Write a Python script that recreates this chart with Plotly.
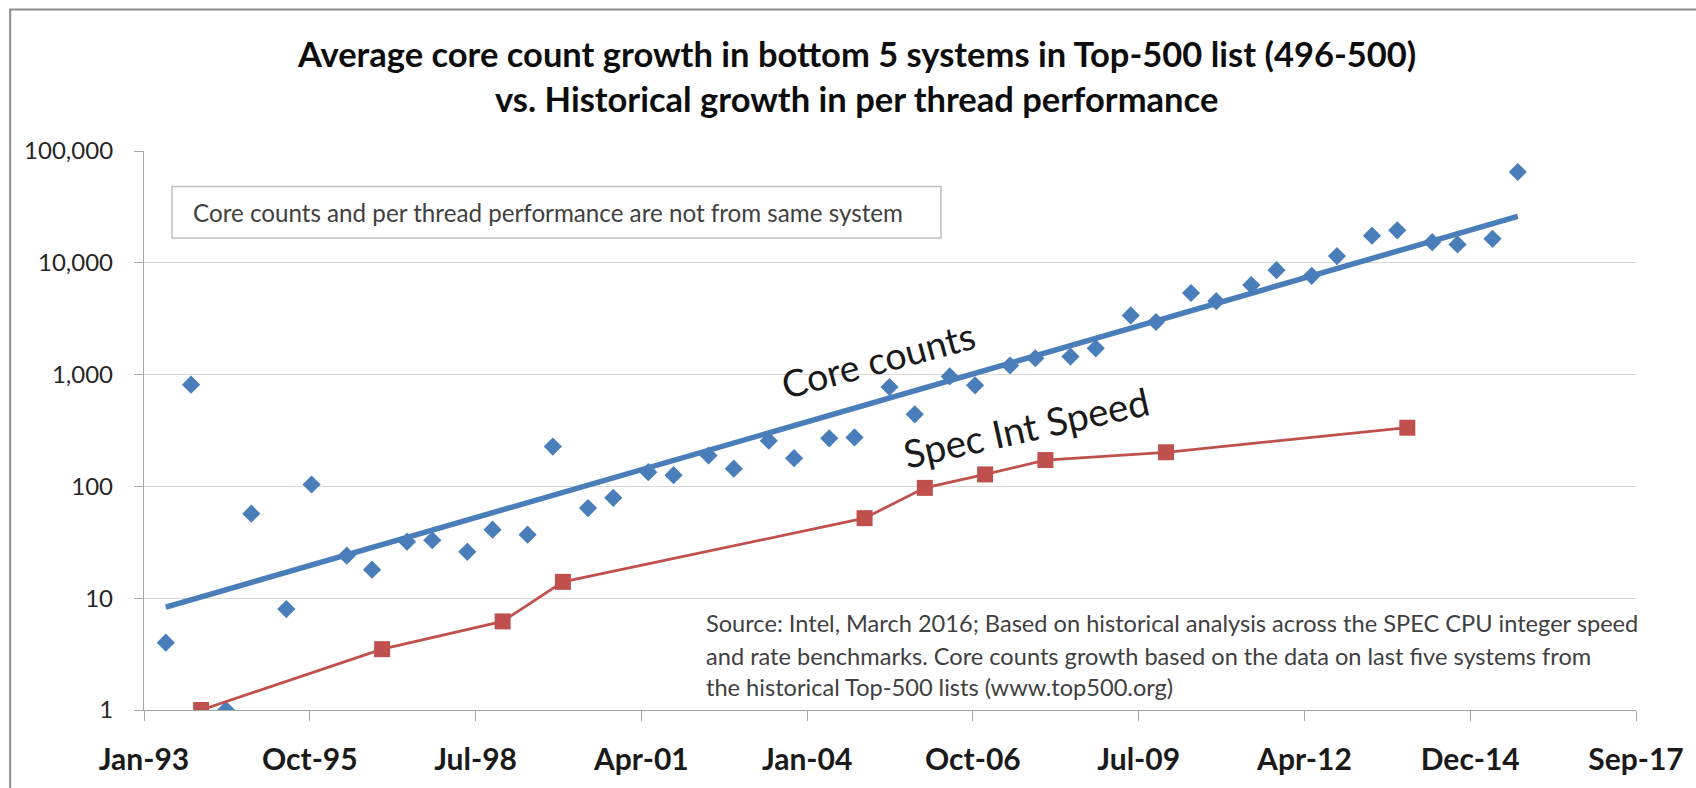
import numpy as np
import pandas as pd
import plotly.graph_objects as go

# Average core count of systems 496-500 in each Top-500 list (spring / autumn lists)
core_dates = [
    "1993-05-15", "1993-10-15", "1994-05-15", "1994-10-15", "1995-05-15", "1995-10-15",
    "1996-05-15", "1996-10-15", "1997-05-15", "1997-10-15", "1998-05-15", "1998-10-15",
    "1999-05-15", "1999-10-15", "2000-05-15", "2000-10-15", "2001-05-15", "2001-10-15",
    "2002-05-15", "2002-10-15", "2003-05-15", "2003-10-15", "2004-05-15", "2004-10-15",
    "2005-05-15", "2005-10-15", "2006-05-15", "2006-10-15", "2007-05-15", "2007-10-15",
    "2008-05-15", "2008-10-15", "2009-05-15", "2009-10-15", "2010-05-15", "2010-10-15",
    "2011-05-15", "2011-10-15", "2012-05-15", "2012-10-15", "2013-05-15", "2013-10-15",
    "2014-05-15", "2014-10-15", "2015-05-15", "2015-10-15",
]
core_counts = [
    4, 813, 1, 57, 8, 104,
    24, 18, 32, 33, 26, 41,
    37, 227, 64, 79, 134, 126,
    189, 144, 256, 179, 269, 274,
    775, 441, 964, 802, 1206, 1400,
    1449, 1718, 3380, 2954, 5370, 4540,
    6320, 8590, 7640, 11480, 17500, 19500,
    15300, 14600, 16400, 64900,
]

# Historical single-thread SPECint speed
spec_dates = [
    "1993-12-15", "1996-12-15", "1998-12-15", "1999-12-15", "2004-12-15",
    "2005-12-15", "2006-12-15", "2007-12-15", "2009-12-15", "2013-12-15",
]
spec_int_speed = [1, 3.5, 6.2, 14, 52, 97, 128, 172, 202, 335]

y_tick_vals = [1, 10, 100, 1000, 10000, 100000]
y_tick_text = ["1", "10", "100", "1,000", "10,000", "100,000"]

title_lines = [
    "Average core count growth in bottom 5 systems in Top-500 list (496-500)",
    "vs. Historical growth in per thread performance",
]
note_text = "Core counts and per thread performance are not from same system"
source_lines = [
    "Source: Intel, March 2016; Based on historical analysis across the SPEC CPU integer speed",
    "and rate benchmarks. Core counts growth based on the data on last five systems from",
    "the historical Top-500 lists (www.top500.org)",
]

BLUE = "#4A7EBB"
RED = "#C0504D"
FONT = "Lato, Carlito, 'Open Sans', sans-serif"

# Exponential trendline (least squares on log10 of the core counts)
t = pd.to_datetime(core_dates)
t_days = np.asarray((t - t[0]).days, dtype=float)
slope, intercept = np.polyfit(t_days, np.log10(core_counts), 1)
trend_x = [t[0], t[-1]]
trend_y = 10 ** (intercept + slope * np.array([0.0, t_days[-1]]))

# Figure geometry
W, H = 1696, 788
ML, MR, MT, MB = 144, 58, 151, 72
PW, PH = W - ML - MR, H - MT - MB


def px(x):
    return (x - ML) / PW


def py(y):
    return (H - MB - y) / PH


axis_start = pd.Timestamp("1993-01-03")
tick_step_days = 1004
axis_end = axis_start + pd.Timedelta(days=9 * tick_step_days)

fig = go.Figure()

fig.add_trace(go.Scatter(
    x=core_dates, y=core_counts, mode="markers", name="Core counts",
    marker=dict(symbol="diamond", size=14, color=BLUE, line=dict(width=0)),
))
fig.add_trace(go.Scatter(
    x=spec_dates, y=spec_int_speed, mode="lines+markers", name="Spec Int Speed",
    line=dict(color=RED, width=2.75),
    marker=dict(symbol="square", size=16, color=RED, line=dict(width=0)),
))
fig.add_trace(go.Scatter(
    x=trend_x, y=trend_y, mode="lines", name="Core count trend",
    line=dict(color=BLUE, width=5.5),
))

annotations = []
for text, yc in zip(title_lines, [52, 98]):
    annotations.append(dict(
        text=text, xref="paper", yref="paper", x=px(857), y=py(yc),
        xanchor="center", yanchor="middle", showarrow=False,
        font=dict(family=FONT, size=34.5, color="#0d0d0d", weight="bold"),
    ))

annotations.append(dict(
    text=note_text, xref="paper", yref="paper", x=px(191), y=py(213),
    xanchor="left", yanchor="middle", showarrow=False,
    font=dict(family=FONT, size=24.2, color="#404040"),
))

for text, yc in zip(source_lines, [628, 661, 693]):
    annotations.append(dict(
        text=text, xref="paper", yref="paper", x=px(705), y=py(yc),
        xanchor="left", yanchor="middle", showarrow=False,
        font=dict(family=FONT, size=23.6, color="#404040"),
    ))

annotations.append(dict(
    text="Core counts", xref="paper", yref="paper", x=px(879), y=py(362),
    xanchor="center", yanchor="middle", showarrow=False, textangle=-15,
    font=dict(family=FONT, size=37.5, color="#1a1a1a"),
))
annotations.append(dict(
    text="Spec Int Speed", xref="paper", yref="paper", x=px(1027), y=py(430),
    xanchor="center", yanchor="middle", showarrow=False, textangle=-12.5,
    font=dict(family=FONT, size=38.5, color="#1a1a1a"),
))

shapes = [
    # outer chart frame
    dict(type="rect", xref="paper", yref="paper", layer="below",
         x0=px(10), x1=px(1900), y0=py(900), y1=py(8),
         line=dict(color="#8c8c8c", width=2), fillcolor="rgba(0,0,0,0)"),
    # note box
    dict(type="rect", xref="paper", yref="paper", layer="above",
         x0=px(172), x1=px(942), y0=py(239), y1=py(187),
         line=dict(color="#bfbfbf", width=1.5), fillcolor="rgba(0,0,0,0)"),
]

fig.update_layout(
    width=W, height=H,
    margin=dict(l=ML, r=MR, t=MT, b=MB, pad=0),
    paper_bgcolor="white", plot_bgcolor="white",
    showlegend=False,
    annotations=annotations,
    shapes=shapes,
    xaxis=dict(
        type="date", range=[axis_start, axis_end],
        tick0=axis_start, dtick=tick_step_days * 86400000, tickformat="%b-%y",
        ticks="outside", ticklen=10, tickwidth=1.3, tickcolor="#a6a6a6",
        showline=True, linecolor="#a6a6a6", linewidth=1.3,
        showgrid=False, zeroline=False, ticklabelstandoff=13,
        tickfont=dict(family=FONT, size=30, color="#1a1a1a", weight="bold"),
    ),
    yaxis=dict(
        type="log", range=[0, 5],
        tickvals=y_tick_vals, ticktext=y_tick_text,
        ticks="outside", ticklen=9, tickwidth=1.3, tickcolor="#a6a6a6",
        showline=True, linecolor="#a6a6a6", linewidth=1.3,
        showgrid=True, gridcolor="#d9d9d9", gridwidth=1.3, zeroline=False,
        ticklabelstandoff=16,
        tickfont=dict(family=FONT, size=24, color="#262626"),
    ),
)

fig.write_html("out.html")
